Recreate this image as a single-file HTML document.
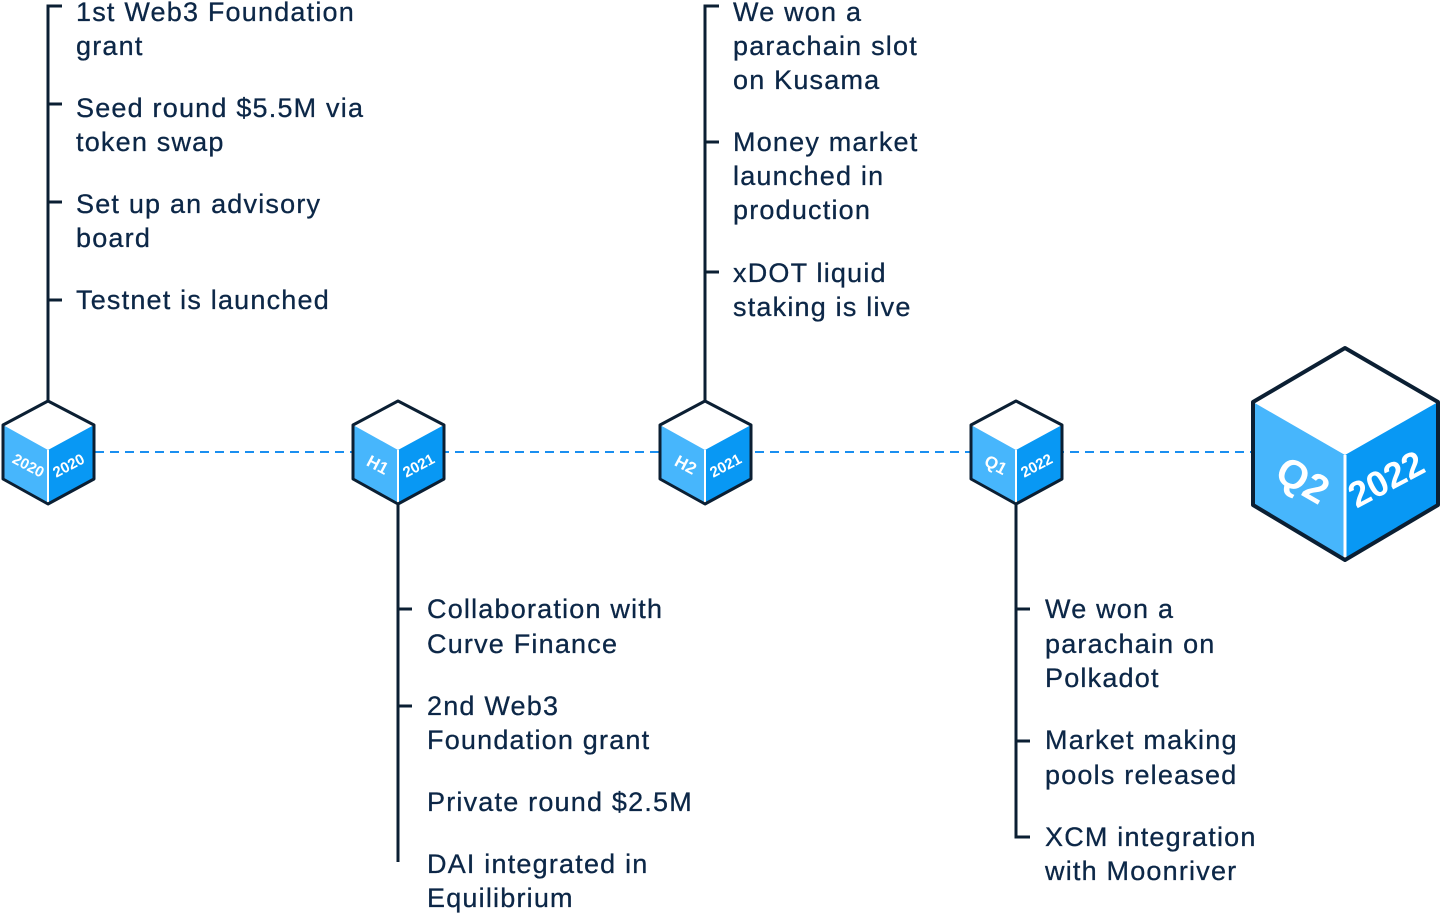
<!DOCTYPE html>
<html><head><meta charset="utf-8"><style>
html,body{margin:0;padding:0;background:#fff;}
svg{display:block;}
.t{font-family:"Liberation Sans",sans-serif;font-size:27px;letter-spacing:1.2px;fill:#0c2747;stroke:#0c2747;stroke-width:0.3px;}
.c{font-family:"Liberation Sans",sans-serif;font-weight:bold;fill:#fff;}
</style></head><body>
<svg width="1440" height="913" viewBox="0 0 1440 913" xmlns="http://www.w3.org/2000/svg">
<line x1="95" y1="452" x2="1252" y2="452" stroke="#1a8ff0" stroke-width="2" stroke-dasharray="9,6"/>
<g stroke="#0b1f33" stroke-width="3" fill="none">
<polyline points="62,6 48,6 48,401"/>
<line x1="48" y1="104" x2="62" y2="104"/><line x1="48" y1="202" x2="62" y2="202"/><line x1="48" y1="300" x2="62" y2="300"/>
<polyline points="398,504 398,862"/>
<line x1="398" y1="609" x2="412" y2="609"/><line x1="398" y1="706" x2="412" y2="706"/>
<polyline points="719,6 705,6 705,401"/>
<line x1="705" y1="142" x2="719" y2="142"/><line x1="705" y1="272" x2="719" y2="272"/>
<polyline points="1016,504 1016,837 1030,837"/>
<line x1="1016" y1="609" x2="1030" y2="609"/><line x1="1016" y1="741" x2="1030" y2="741"/>
</g>
<g>
<g transform="translate(48,0)">
<polygon points="0,401 -45,425 0,450 46,425" fill="#fff"/>
<polygon points="-45,425 0,450 0,504 -45,479" fill="#47b6fc"/>
<polygon points="0,450 46,425 46,479 0,504" fill="#0898f4"/>
<line x1="0" y1="450" x2="0" y2="504" stroke="#fff" stroke-width="2"/>
<polygon points="0,401 -45,425 -45,479 0,504 46,479 46,425" fill="none" stroke="#0b1f33" stroke-width="3" stroke-linejoin="round"/>
<text class="c" font-size="15" transform="translate(-22,470) rotate(28)" text-anchor="middle">2020</text>
<text class="c" font-size="15" transform="translate(23,470) rotate(-28)" text-anchor="middle">2020</text>
</g>
<g transform="translate(398,0)">
<polygon points="0,401 -45,425 0,450 46,425" fill="#fff"/>
<polygon points="-45,425 0,450 0,504 -45,479" fill="#47b6fc"/>
<polygon points="0,450 46,425 46,479 0,504" fill="#0898f4"/>
<line x1="0" y1="450" x2="0" y2="504" stroke="#fff" stroke-width="2"/>
<polygon points="0,401 -45,425 -45,479 0,504 46,479 46,425" fill="none" stroke="#0b1f33" stroke-width="3" stroke-linejoin="round"/>
<text class="c" font-size="17" transform="translate(-23,470) rotate(28)" text-anchor="middle">H1</text>
<text class="c" font-size="15" transform="translate(23,470) rotate(-28)" text-anchor="middle">2021</text>
</g>
<g transform="translate(705,0)">
<polygon points="0,401 -45,425 0,450 46,425" fill="#fff"/>
<polygon points="-45,425 0,450 0,504 -45,479" fill="#47b6fc"/>
<polygon points="0,450 46,425 46,479 0,504" fill="#0898f4"/>
<line x1="0" y1="450" x2="0" y2="504" stroke="#fff" stroke-width="2"/>
<polygon points="0,401 -45,425 -45,479 0,504 46,479 46,425" fill="none" stroke="#0b1f33" stroke-width="3" stroke-linejoin="round"/>
<text class="c" font-size="17" transform="translate(-22,470) rotate(28)" text-anchor="middle">H2</text>
<text class="c" font-size="15" transform="translate(23,470) rotate(-28)" text-anchor="middle">2021</text>
</g>
<g transform="translate(1016,0)">
<polygon points="0,401 -45,425 0,450 46,425" fill="#fff"/>
<polygon points="-45,425 0,450 0,504 -45,479" fill="#47b6fc"/>
<polygon points="0,450 46,425 46,479 0,504" fill="#0898f4"/>
<line x1="0" y1="450" x2="0" y2="504" stroke="#fff" stroke-width="2"/>
<polygon points="0,401 -45,425 -45,479 0,504 46,479 46,425" fill="none" stroke="#0b1f33" stroke-width="3" stroke-linejoin="round"/>
<text class="c" font-size="17" transform="translate(-23,470) rotate(28)" text-anchor="middle">Q1</text>
<text class="c" font-size="15" transform="translate(23,470) rotate(-28)" text-anchor="middle">2022</text>
</g>
<g>
<polygon points="1345,348 1253,402 1345,455 1438,402" fill="#fff"/>
<polygon points="1253,402 1345,455 1345,560 1253,505" fill="#47b6fc"/>
<polygon points="1345,455 1438,402 1438,505 1345,560" fill="#0898f4"/>
<line x1="1345" y1="455" x2="1345" y2="560" stroke="#fff" stroke-width="3"/>
<polygon points="1345,348 1253,402 1253,505 1345,560 1438,505 1438,402" fill="none" stroke="#0b1f33" stroke-width="4" stroke-linejoin="round"/>
<text class="c" font-size="40" transform="translate(1296,492) rotate(30)" text-anchor="middle">Q2</text>
<text class="c" font-size="36" transform="translate(1392,490) rotate(-28)" text-anchor="middle">2022</text>
</g>
</g>
<g class="t">
<text x="76" y="21">1st Web3 Foundation</text><text x="76" y="55">grant</text>
<text x="76" y="117">Seed round $5.5M via</text><text x="76" y="151">token swap</text>
<text x="76" y="213">Set up an advisory</text><text x="76" y="247">board</text>
<text x="76" y="309">Testnet is launched</text>

<text x="427" y="618">Collaboration with</text><text x="427" y="653">Curve Finance</text>
<text x="427" y="715">2nd Web3</text><text x="427" y="749">Foundation grant</text>
<text x="427" y="811">Private round $2.5M</text>
<text x="427" y="873">DAI integrated in</text><text x="427" y="907">Equilibrium</text>

<text x="733" y="21">We won a</text><text x="733" y="55">parachain slot</text><text x="733" y="89">on Kusama</text>
<text x="733" y="151">Money market</text><text x="733" y="185">launched in</text><text x="733" y="219">production</text>
<text x="733" y="282">xDOT liquid</text><text x="733" y="316">staking is live</text>

<text x="1045" y="618">We won a</text><text x="1045" y="653">parachain on</text><text x="1045" y="687">Polkadot</text>
<text x="1045" y="749">Market making</text><text x="1045" y="784">pools released</text>
<text x="1045" y="846">XCM integration</text><text x="1045" y="880">with Moonriver</text>
</g>
</svg>
</body></html>
